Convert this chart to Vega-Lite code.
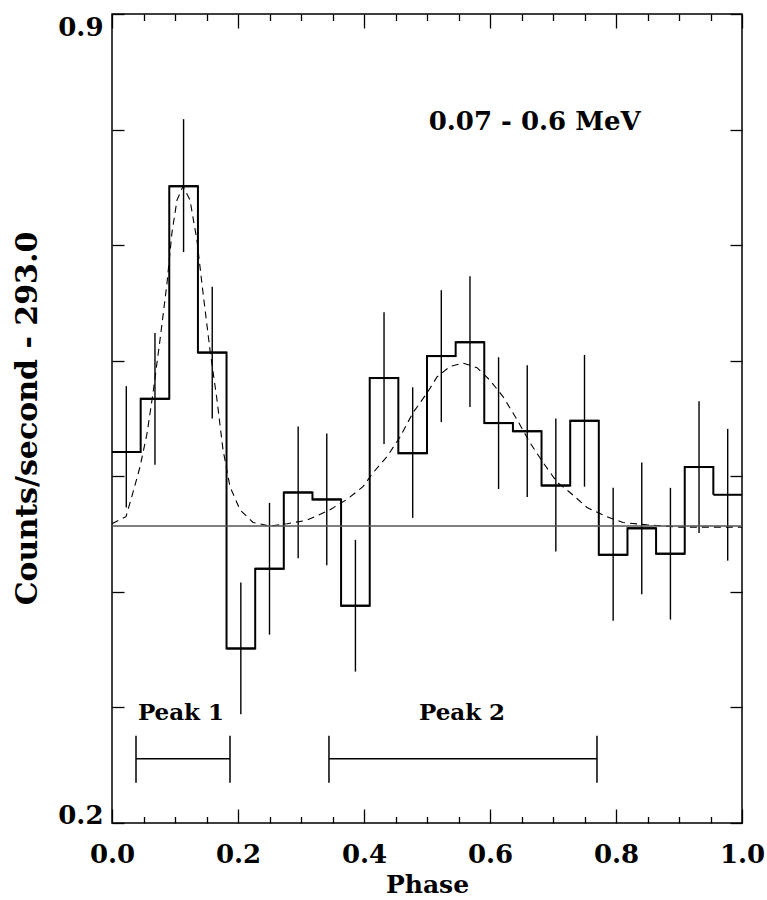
{
  "$schema": "https://vega.github.io/schema/vega-lite/v6.json",
  "width": 630,
  "height": 809,
  "autosize": {"type": "none"},
  "padding": {"left": 112, "top": 14, "right": 25, "bottom": 77},
  "background": "white",
  "config": {
    "view": {"stroke": "black", "strokeWidth": 1.5},
    "axis": {
      "domain": false,
      "grid": false,
      "ticks": true,
      "tickColor": "black",
      "tickWidth": 1.3,
      "labelFont": "DejaVu Serif",
      "labelFontSize": 26,
      "labelFontWeight": "bold",
      "labelColor": "black",
      "labelFlush": false,
      "labelOverlap": false,
      "titleFont": "DejaVu Serif",
      "titleFontWeight": "bold",
      "titleColor": "black"
    }
  },
  "datasets": {
    "hist": [
      {"start": 0.0, "end": 0.0455, "center": 0.0227, "rate": 0.521, "lo": 0.473, "hi": 0.578},
      {"start": 0.0455, "end": 0.0909, "center": 0.0682, "rate": 0.567, "lo": 0.510, "hi": 0.624},
      {"start": 0.0909, "end": 0.1364, "center": 0.1136, "rate": 0.751, "lo": 0.694, "hi": 0.809},
      {"start": 0.1364, "end": 0.1818, "center": 0.1591, "rate": 0.607, "lo": 0.550, "hi": 0.664},
      {"start": 0.1818, "end": 0.2273, "center": 0.2045, "rate": 0.351, "lo": 0.294, "hi": 0.408},
      {"start": 0.2273, "end": 0.2727, "center": 0.25, "rate": 0.420, "lo": 0.363, "hi": 0.477},
      {"start": 0.2727, "end": 0.3182, "center": 0.2955, "rate": 0.486, "lo": 0.429, "hi": 0.543},
      {"start": 0.3182, "end": 0.3636, "center": 0.3409, "rate": 0.480, "lo": 0.423, "hi": 0.537},
      {"start": 0.3636, "end": 0.4091, "center": 0.3864, "rate": 0.388, "lo": 0.331, "hi": 0.445},
      {"start": 0.4091, "end": 0.4545, "center": 0.4318, "rate": 0.585, "lo": 0.528, "hi": 0.642},
      {"start": 0.4545, "end": 0.5, "center": 0.4773, "rate": 0.520, "lo": 0.464, "hi": 0.577},
      {"start": 0.5, "end": 0.5455, "center": 0.5227, "rate": 0.604, "lo": 0.547, "hi": 0.661},
      {"start": 0.5455, "end": 0.5909, "center": 0.5682, "rate": 0.616, "lo": 0.560, "hi": 0.673},
      {"start": 0.5909, "end": 0.6364, "center": 0.6136, "rate": 0.546, "lo": 0.489, "hi": 0.603},
      {"start": 0.6364, "end": 0.6818, "center": 0.6591, "rate": 0.539, "lo": 0.482, "hi": 0.596},
      {"start": 0.6818, "end": 0.7273, "center": 0.7045, "rate": 0.492, "lo": 0.435, "hi": 0.550},
      {"start": 0.7273, "end": 0.7727, "center": 0.75, "rate": 0.548, "lo": 0.491, "hi": 0.605},
      {"start": 0.7727, "end": 0.8182, "center": 0.7955, "rate": 0.432, "lo": 0.375, "hi": 0.490},
      {"start": 0.8182, "end": 0.8636, "center": 0.8409, "rate": 0.455, "lo": 0.398, "hi": 0.512},
      {"start": 0.8636, "end": 0.9091, "center": 0.8864, "rate": 0.433, "lo": 0.376, "hi": 0.490},
      {"start": 0.9091, "end": 0.9545, "center": 0.9318, "rate": 0.508, "lo": 0.451, "hi": 0.565},
      {"start": 0.9545, "end": 1.0, "center": 0.9773, "rate": 0.484, "lo": 0.427, "hi": 0.541}
    ],
    "model": [
      {"phase": 0.0, "rate": 0.459},
      {"phase": 0.0222, "rate": 0.465},
      {"phase": 0.0333, "rate": 0.486},
      {"phase": 0.0444, "rate": 0.508},
      {"phase": 0.0556, "rate": 0.537},
      {"phase": 0.0651, "rate": 0.572},
      {"phase": 0.0762, "rate": 0.618},
      {"phase": 0.0873, "rate": 0.667},
      {"phase": 0.0952, "rate": 0.711},
      {"phase": 0.1032, "rate": 0.739},
      {"phase": 0.1127, "rate": 0.751},
      {"phase": 0.1238, "rate": 0.739},
      {"phase": 0.1349, "rate": 0.704},
      {"phase": 0.1444, "rate": 0.659},
      {"phase": 0.1556, "rate": 0.609},
      {"phase": 0.1667, "rate": 0.566},
      {"phase": 0.1762, "rate": 0.523},
      {"phase": 0.1873, "rate": 0.491},
      {"phase": 0.2032, "rate": 0.471},
      {"phase": 0.2238, "rate": 0.460},
      {"phase": 0.2508, "rate": 0.457},
      {"phase": 0.2778, "rate": 0.459},
      {"phase": 0.3095, "rate": 0.462},
      {"phase": 0.346, "rate": 0.471},
      {"phase": 0.373, "rate": 0.480},
      {"phase": 0.3984, "rate": 0.491},
      {"phase": 0.4143, "rate": 0.503},
      {"phase": 0.4365, "rate": 0.517},
      {"phase": 0.4571, "rate": 0.534},
      {"phase": 0.4778, "rate": 0.555},
      {"phase": 0.5, "rate": 0.572},
      {"phase": 0.5159, "rate": 0.586},
      {"phase": 0.5365, "rate": 0.595},
      {"phase": 0.5571, "rate": 0.598},
      {"phase": 0.5794, "rate": 0.594},
      {"phase": 0.6, "rate": 0.583},
      {"phase": 0.6206, "rate": 0.569},
      {"phase": 0.6429, "rate": 0.549},
      {"phase": 0.6635, "rate": 0.529},
      {"phase": 0.6841, "rate": 0.512},
      {"phase": 0.7063, "rate": 0.495},
      {"phase": 0.727, "rate": 0.486},
      {"phase": 0.754, "rate": 0.473},
      {"phase": 0.7857, "rate": 0.465},
      {"phase": 0.8111, "rate": 0.460},
      {"phase": 0.8492, "rate": 0.458},
      {"phase": 0.9016, "rate": 0.456},
      {"phase": 0.954, "rate": 0.456},
      {"phase": 1.0, "rate": 0.456}
    ],
    "baseline": [{"level": 0.457}],
    "peaks": [
      {"label": "Peak 1", "start": 0.0381, "end": 0.1873, "level": 0.2555, "capLo": 0.2348, "capHi": 0.2754, "mid": 0.1095, "textLevel": 0.2893},
      {"label": "Peak 2", "start": 0.3444, "end": 0.7698, "level": 0.2555, "capLo": 0.2348, "capHi": 0.2754, "mid": 0.5556, "textLevel": 0.2893}
    ],
    "note": [{"phase": 0.671, "rate": 0.80, "text": "0.07 - 0.6 MeV"}]
  },
  "layer": [
    {
      "data": {"name": "hist"},
      "mark": {"type": "rule", "color": "black", "strokeWidth": 2},
      "encoding": {
        "x": {
          "field": "start", "type": "quantitative",
          "scale": {"domain": [0, 1], "nice": false, "zero": false},
          "axis": {
            "orient": "bottom", "values": [0, 0.2, 0.4, 0.6, 0.8, 1.0], "format": ".1f",
            "tickSize": -14, "labelPadding": 32, "labelBaseline": "top",
            "title": "Phase", "titleFontSize": 25, "titleX": 315, "titleY": 69,
            "titleBaseline": "alphabetic", "titleAlign": "center"
          }
        },
        "x2": {"field": "end"},
        "y": {
          "field": "rate", "type": "quantitative",
          "scale": {"domain": [0.2, 0.9], "nice": false, "zero": false},
          "axis": {
            "orient": "left", "values": [0.2, 0.3, 0.4, 0.5, 0.6, 0.7, 0.8, 0.9],
            "labelExpr": "datum.value < 0.25 || datum.value > 0.85 ? format(datum.value, '.1f') : ''",
            "tickSize": -12, "labelPadding": 21,
            "labelBaseline": {"condition": {"test": "datum.value > 0.85", "value": "top"}, "value": "alphabetic"},
            "title": "Counts/second - 293.0", "titleFontSize": 30, "titleAngle": -90,
            "titleX": -76, "titleY": 404, "titleBaseline": "alphabetic", "titleAlign": "center"
          }
        }
      }
    },
    {
      "data": {"name": "hist"},
      "mark": {"type": "line", "interpolate": "step-after", "color": "black", "strokeWidth": 2},
      "encoding": {
        "x": {
          "field": "start", "type": "quantitative",
          "axis": {
            "orient": "bottom", "values": [0.05, 0.1, 0.15, 0.25, 0.3, 0.35, 0.45, 0.5, 0.55, 0.65, 0.7, 0.75, 0.85, 0.9, 0.95],
            "tickSize": -6.5, "labels": false, "title": null
          }
        },
        "y": {
          "field": "rate", "type": "quantitative",
          "axis": {
            "orient": "right", "values": [0.2, 0.3, 0.4, 0.5, 0.6, 0.7, 0.8, 0.9],
            "tickSize": -12, "labels": false, "title": null
          }
        }
      }
    },
    {
      "data": {"name": "hist"},
      "mark": {"type": "rule", "color": "black", "strokeWidth": 1.4},
      "encoding": {
        "x": {
          "field": "center", "type": "quantitative",
          "axis": {
            "orient": "top", "values": [0, 0.2, 0.4, 0.6, 0.8, 1.0],
            "tickSize": -14, "labels": false, "title": null
          }
        },
        "y": {"field": "lo", "type": "quantitative", "axis": null},
        "y2": {"field": "hi"}
      }
    },
    {
      "data": {"name": "model"},
      "mark": {"type": "line", "color": "black", "strokeWidth": 1.1, "strokeDash": [7, 5]},
      "encoding": {
        "x": {
          "field": "phase", "type": "quantitative",
          "axis": {
            "orient": "top", "values": [0.05, 0.1, 0.15, 0.25, 0.3, 0.35, 0.45, 0.5, 0.55, 0.65, 0.7, 0.75, 0.85, 0.9, 0.95],
            "tickSize": -6.5, "labels": false, "title": null
          }
        },
        "y": {"field": "rate", "type": "quantitative", "axis": null}
      }
    },
    {
      "data": {"name": "baseline"},
      "mark": {"type": "rule", "color": "#555555", "strokeWidth": 1.3},
      "encoding": {
        "y": {"field": "level", "type": "quantitative", "axis": null}
      }
    },
    {
      "data": {"name": "peaks"},
      "mark": {"type": "rule", "color": "black", "strokeWidth": 1.5},
      "encoding": {
        "x": {"field": "start", "type": "quantitative", "axis": null},
        "x2": {"field": "end"},
        "y": {"field": "level", "type": "quantitative", "axis": null}
      }
    },
    {
      "data": {"name": "peaks"},
      "transform": [{"fold": ["start", "end"], "as": ["edge", "edgePhase"]}],
      "mark": {"type": "rule", "color": "black", "strokeWidth": 1.5},
      "encoding": {
        "x": {"field": "edgePhase", "type": "quantitative", "axis": null},
        "y": {"field": "capLo", "type": "quantitative", "axis": null},
        "y2": {"field": "capHi"}
      }
    },
    {
      "data": {"name": "peaks"},
      "mark": {"type": "text", "font": "DejaVu Serif", "fontWeight": "bold", "fontSize": 23, "align": "center", "baseline": "alphabetic", "color": "black"},
      "encoding": {
        "x": {"field": "mid", "type": "quantitative", "axis": null},
        "y": {"field": "textLevel", "type": "quantitative", "axis": null},
        "text": {"field": "label"}
      }
    },
    {
      "data": {"name": "note"},
      "mark": {"type": "text", "font": "DejaVu Serif", "fontWeight": "bold", "fontSize": 26, "align": "center", "baseline": "alphabetic", "color": "black"},
      "encoding": {
        "x": {"field": "phase", "type": "quantitative", "axis": null},
        "y": {"field": "rate", "type": "quantitative", "axis": null},
        "text": {"field": "text"}
      }
    }
  ],
  "resolve": {"axis": {"x": "independent", "y": "independent"}}
}
